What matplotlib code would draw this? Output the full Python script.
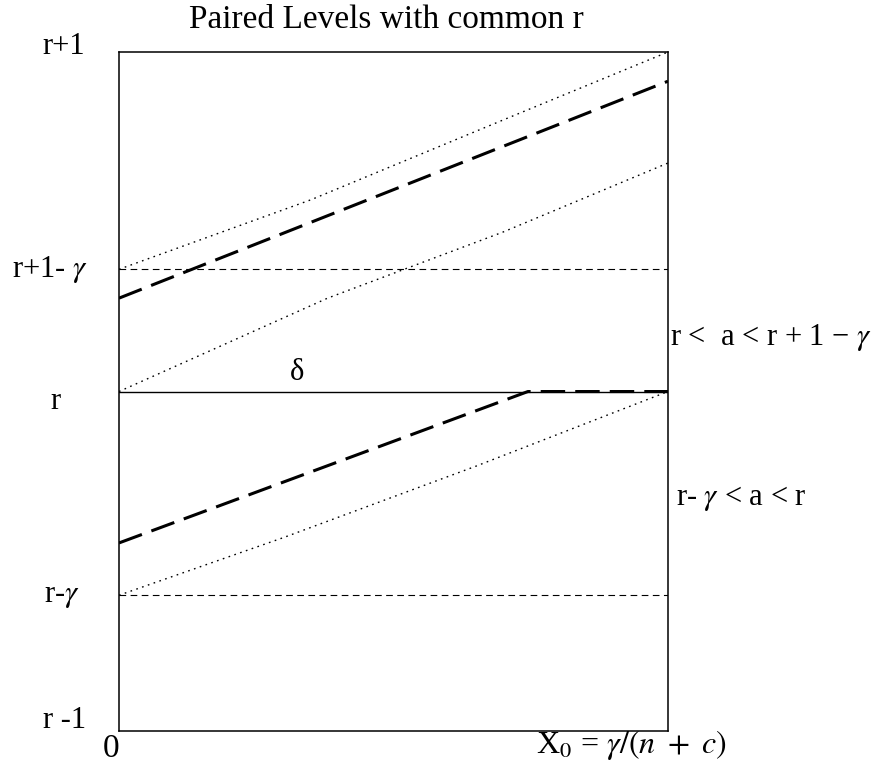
import matplotlib
matplotlib.use("Agg")
import matplotlib.pyplot as plt

# levels relative to r (r = 0), x runs from 0 to X0 (= 1)
gamma_hi = 0.64          # r+1-gamma sits at 1 - gamma_hi
gamma_lo = 0.60          # r-gamma sits at -gamma_lo

# upper pair (r < a < r+1-gamma)
up_dot_top_x = [0.0, 0.35, 0.7, 1.0]
up_dot_top_y = [0.36, 0.565, 0.80, 1.0]
up_dash_x = [0.0, 1.0]
up_dash_y = [0.275, 0.914]
up_dot_bot_x = [0.0, 0.38, 0.7, 1.0]
up_dot_bot_y = [0.0, 0.275, 0.47, 0.673]

# lower pair (r-gamma < a < r)
lo_dash_x = [0.0, 0.745, 1.0]
lo_dash_y = [-0.446, 0.0, 0.0]
lo_dot_x = [0.0, 0.3, 0.65, 1.0]
lo_dot_y = [-0.60, -0.43, -0.22, 0.0]

plt.rcParams.update({
    "font.family": ["Liberation Serif", "DejaVu Serif"],
    "mathtext.fontset": "stix",
    "font.size": 22,
})

fig = plt.figure(figsize=(8.82, 7.65), dpi=100)
ax = fig.add_axes([0.1349, 0.0444, 0.6224, 0.8876])
ax.set_xlim(0, 1)
ax.set_ylim(-1, 1)
ax.set_xticks([])
ax.set_yticks([])
for s in ax.spines.values():
    s.set_linewidth(1.1)

# reference levels
ax.axhline(0, color="black", lw=1.0)
ax.axhline(1 - gamma_hi, color="black", lw=0.8, dashes=(6, 4))
ax.axhline(-gamma_lo, color="black", lw=0.8, dashes=(6, 4))

dot = dict(color="black", lw=1.0, dashes=(1.2, 3.2))
thick = dict(color="black", lw=2.2, dashes=(8, 3.3))
ax.plot(up_dot_top_x, up_dot_top_y, **dot)
ax.plot(up_dash_x, up_dash_y, **thick)
ax.plot(up_dot_bot_x, up_dot_bot_y, **dot)
ax.plot(lo_dash_x, lo_dash_y, **thick)
ax.plot(lo_dot_x, lo_dot_y, **dot)

ax.text(0.324, 0.057, "δ", ha="center", va="center")

# left level labels
ax.text(-0.100, 1.017, "r+1", ha="center", va="center", clip_on=False)
ax.text(-0.126, 1 - gamma_hi, "r+1- $\\gamma$", ha="center", va="center", clip_on=False)
ax.text(-0.115, -0.028, "r", ha="center", va="center", clip_on=False)
ax.text(-0.104, -gamma_lo, "r-$\\gamma$", ha="center", va="center", clip_on=False)
ax.text(-0.100, -0.97, "r -1", ha="center", va="center", clip_on=False)

# x labels
ax.text(-0.015, -1.077, "0", ha="center", va="baseline", fontsize=24, clip_on=False)
ax.text(0.934, -1.064, "X$_0$ = $\\gamma/(n\\ +\\ c)$", ha="center", va="baseline",
        fontsize=23, clip_on=False)

# region labels on the right
ax.text(1.004, 0.158, "r <  a < r + 1 − $\\gamma$", ha="left", va="center", clip_on=False)
ax.text(1.015, -0.314, "r- $\\gamma$ < a < r", ha="left", va="center", clip_on=False)

fig.text(0.438, 0.974, "Paired Levels with common r", ha="center", va="center", fontsize=24)

fig.savefig("out.png", dpi=100)
